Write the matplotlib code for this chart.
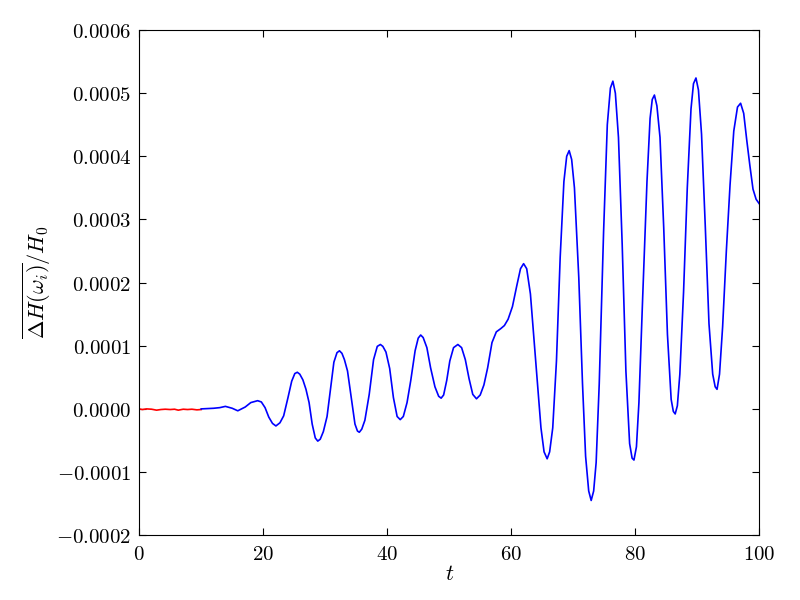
import matplotlib
matplotlib.use('Agg')
import matplotlib.pyplot as plt
from matplotlib.ticker import FuncFormatter
import numpy as np

# values, energy deviation in units of 1e-4
t_red = [0, 0.5, 1.2, 2.0, 2.8, 3.5, 4.2, 5.0, 5.7, 6.3, 7.1, 7.8, 8.5, 9.3, 10]
h_red = [0.0, -0.01, 0.0, -0.005, -0.02, -0.01, -0.005, -0.01, -0.005, -0.02,
         -0.005, -0.01, -0.005, -0.015, -0.01]

t_blue = [10, 11, 12, 13, 13.9, 15, 15.9, 17.1, 18, 19.1, 19.7, 20.3, 20.9, 21.5,
          22.05, 22.7, 23.3, 24.0, 24.6, 25.1, 25.5, 25.9, 26.4, 26.9, 27.4, 27.9,
          28.4, 28.8, 29.2, 29.7, 30.3, 30.9, 31.4, 31.9, 32.3, 32.7, 33.1, 33.6,
          34.2, 34.8, 35.2, 35.5, 35.9, 36.4, 37.1, 37.8, 38.4, 38.9, 39.3, 39.8,
          40.4, 41.0, 41.6, 42.1, 42.6, 43.2, 43.8, 44.5, 45.0, 45.4, 45.8, 46.4,
          47.0, 47.7, 48.3, 48.7, 49.1, 49.6, 50.1, 50.7, 51.4, 52.0, 52.6, 53.2,
          53.8, 54.4, 55.0, 55.6, 56.2, 56.9, 57.6, 58.3, 58.9, 59.5, 60.2, 60.9,
          61.5, 62.0, 62.5, 63.1, 63.6, 64.2, 64.8, 65.3, 65.8, 66.2, 66.7, 67.3,
          67.9, 68.5, 68.95, 69.35, 69.75, 70.2, 70.9, 71.5, 72.0, 72.5, 72.9, 73.3,
          73.7, 74.2, 74.9, 75.5, 76.0, 76.4, 76.8, 77.3, 77.9, 78.5, 79.1, 79.5,
          79.8, 80.2, 80.6, 81.2, 81.9, 82.4, 82.75, 83.1, 83.5, 84.0, 84.6, 85.2,
          85.8, 86.15, 86.45, 86.8, 87.2, 87.8, 88.4, 89.0, 89.4, 89.8, 90.2, 90.7,
          91.3, 91.9, 92.5, 92.9, 93.2, 93.6, 94.1, 94.7, 95.3, 95.9, 96.5, 97.0,
          97.5, 98.0, 98.5, 99.0, 99.5, 100]
h_blue = [0.0, 0.005, 0.01, 0.02, 0.04, 0.01, -0.03, 0.03, 0.10, 0.13, 0.11, 0.02,
          -0.13, -0.23, -0.27, -0.22, -0.11, 0.18, 0.44, 0.56, 0.58, 0.55, 0.46,
          0.31, 0.10, -0.24, -0.46, -0.51, -0.48, -0.36, -0.12, 0.35, 0.74, 0.89,
          0.92, 0.88, 0.78, 0.60, 0.18, -0.24, -0.35, -0.37, -0.32, -0.18, 0.23,
          0.78, 0.99, 1.02, 0.99, 0.90, 0.64, 0.18, -0.12, -0.17, -0.12, 0.10, 0.45,
          0.92, 1.12, 1.17, 1.13, 0.97, 0.65, 0.35, 0.20, 0.17, 0.22, 0.45, 0.76,
          0.97, 1.02, 0.97, 0.78, 0.48, 0.23, 0.16, 0.22, 0.38, 0.65, 1.05, 1.22,
          1.27, 1.32, 1.42, 1.62, 1.95, 2.22, 2.30, 2.22, 1.82, 1.20, 0.45, -0.30,
          -0.68, -0.79, -0.68, -0.30, 0.76, 2.40, 3.60, 4.00, 4.09, 3.95, 3.50,
          2.08, 0.40, -0.75, -1.30, -1.45, -1.30, -0.85, 0.40, 2.80, 4.50, 5.08,
          5.19, 5.00, 4.30, 2.61, 0.60, -0.55, -0.78, -0.81, -0.60, 0.10, 1.75,
          3.60, 4.60, 4.90, 4.97, 4.80, 4.30, 2.87, 1.18, 0.15, -0.04, -0.08, 0.05,
          0.55, 1.85, 3.50, 4.75, 5.15, 5.24, 5.05, 4.35, 2.90, 1.35, 0.55, 0.35,
          0.31, 0.55, 1.30, 2.50, 3.55, 4.40, 4.78, 4.84, 4.68, 4.25, 3.85, 3.48,
          3.32, 3.25]

x_ticks = [0, 20, 40, 60, 80, 100]
y_ticks = [-0.0002, -0.0001, 0.0, 0.0001, 0.0002, 0.0003, 0.0004, 0.0005, 0.0006]

plt.rcParams['mathtext.fontset'] = 'cm'
plt.rcParams['font.size'] = 14

fig = plt.figure(figsize=(8, 6), dpi=100)
ax = fig.add_axes([0.174, 0.108, 0.775, 0.842])

ax.plot(t_red, np.array(h_red) * 1e-4, color='r', lw=1.2)
ax.plot(t_blue, np.array(h_blue) * 1e-4, color='b', lw=1.2)

ax.set_xlim(0, 100)
ax.set_ylim(-0.0002, 0.0006)
ax.set_xticks(x_ticks)
ax.set_yticks(y_ticks)
ax.xaxis.set_major_formatter(FuncFormatter(lambda v, p: r'$%d$' % v))
ax.yaxis.set_major_formatter(FuncFormatter(lambda v, p: r'$%.4f$' % v))
ax.tick_params(direction='in', top=True, right=True, length=5, width=0.8,
               labelsize=15, pad=6)
ax.set_xlabel(r'$t$', fontsize=16, labelpad=0)
ax.set_ylabel(r'$\overline{\Delta H(\omega_i)}/H_0$', fontsize=16, labelpad=2)

fig.savefig('out.png', dpi=100)
